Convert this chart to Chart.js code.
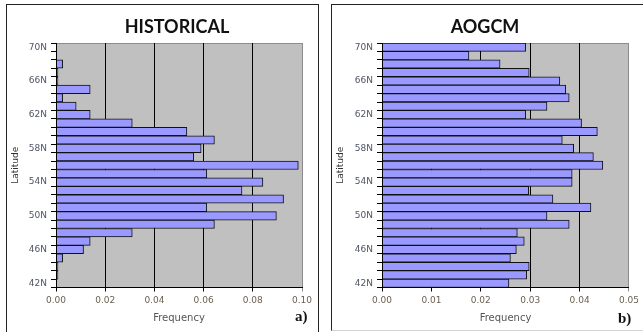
<!DOCTYPE html>
<html>
<head>
<meta charset="utf-8">
<script src="https://cdn.jsdelivr.net/npm/chart.js@4.4.1/dist/chart.umd.min.js"></script>
<style>
  html, body { margin: 0; padding: 0; background: #fff; }
  body { position: relative; width: 643px; height: 332px; overflow: hidden; }
  .panel { position: absolute; box-sizing: border-box; border: 1px solid #222; }
  #panelA { left: 6px; top: 4px; width: 313px; height: 340px; }
  #panelB { left: 331px; top: 4px; width: 320px; height: 327px; border-bottom-color: #d4d4d4; }
  canvas { position: absolute; top: 0; }
  #histCanvas { left: 0; }
  #aogcmCanvas { left: 325px; }
</style>
</head>
<body>
<div class="panel" id="panelA"></div>
<div class="panel" id="panelB"></div>
<canvas id="histCanvas" width="319" height="332"></canvas>
<canvas id="aogcmCanvas" width="318" height="332"></canvas>
<script>
// Latitude bands, north to south
const latitudes = ['70N','69N','68N','67N','66N','65N','64N','63N','62N','61N',
                   '60N','59N','58N','57N','56N','55N','54N','53N','52N','51N',
                   '50N','49N','48N','47N','46N','45N','44N','43N','42N'];

// Relative frequency per latitude band
const historical = [0, 0, 0.0027, 0.0008, 0.0008, 0.0139, 0.0027, 0.0082, 0.0139, 0.0310,
                    0.0532, 0.0644, 0.0590, 0.0560, 0.0985, 0.0613, 0.0841, 0.0756, 0.0925, 0.0613,
                    0.0896, 0.0644, 0.0310, 0.0139, 0.0112, 0.0027, 0.0008, 0.0008, 0];

const aogcm = [0.0291, 0.0176, 0.0239, 0.0298, 0.0360, 0.0372, 0.0379, 0.0334, 0.0291, 0.0404,
               0.0436, 0.0365, 0.0388, 0.0428, 0.0447, 0.0385, 0.0385, 0.0297, 0.0346, 0.0423,
               0.0334, 0.0379, 0.0274, 0.0288, 0.0272, 0.0260, 0.0298, 0.0293, 0.0257];

// Frequency axis ranges and label step
const histAxis = { max: 0.10, step: 0.02 };
const aogcmAxis = { max: 0.05, step: 0.01 };

Chart.defaults.font.family = '"DejaVu Sans", sans-serif';
Chart.defaults.animation = false;

// Grey plot area with a soft top/right frame
const plotFrame = {
  id: 'plotFrame',
  beforeDraw(chart) {
    const { ctx, chartArea: a } = chart;
    ctx.save();
    ctx.fillStyle = '#c0c0c0';
    ctx.fillRect(a.left, a.top, a.right - a.left, a.bottom - a.top);
    ctx.strokeStyle = '#8c8c8c';
    ctx.lineWidth = 1;
    ctx.beginPath();
    ctx.moveTo(a.left, Math.round(a.top) + 0.5);
    ctx.lineTo(a.right, Math.round(a.top) + 0.5);
    ctx.stroke();
    ctx.restore();
  }
};

// Panel heading and panel letter
const panelText = {
  id: 'panelText',
  afterDraw(chart, args, opts) {
    const { ctx } = chart;
    ctx.save();
    ctx.fillStyle = '#111';
    ctx.textBaseline = 'alphabetic';
    ctx.font = 'bold 18px Lato, sans-serif';
    ctx.textAlign = 'center';
    ctx.fillText(opts.title, opts.titleX, opts.titleY);
    ctx.font = 'bold 15px "Liberation Serif", serif';
    ctx.textAlign = 'left';
    ctx.fillText(opts.letter, opts.letterX, opts.letterY);
    ctx.restore();
  }
};

function makeChart(canvasId, values, axis, layout, text) {
  return new Chart(document.getElementById(canvasId), {
    type: 'bar',
    data: {
      labels: latitudes,
      datasets: [{
        data: values,
        backgroundColor: '#9999ff',
        borderColor: '#111',
        borderWidth: 1,
        barPercentage: 1,
        categoryPercentage: 1
      }]
    },
    options: {
      indexAxis: 'y',
      responsive: false,
      devicePixelRatio: 1,
      layout: { padding: { left: 0, top: layout.top, right: layout.right, bottom: 0 } },
      plugins: {
        legend: { display: false },
        tooltip: { enabled: false },
        panelText: text
      },
      scales: {
        x: {
          type: 'linear',
          min: 0,
          max: axis.max,
          afterFit(s) { s.height = layout.xHeight; },
          ticks: {
            stepSize: axis.step,
            color: '#6a5f52',
            font: { size: 9 },
            padding: 4,
            callback: v => Number(v).toFixed(2)
          },
          grid: {
            color: ctx => (ctx.tick && Math.abs(ctx.tick.value - axis.max) < 1e-9) ? '#8c8c8c' : '#000',
            lineWidth: 1,
            tickLength: 4,
            drawTicks: true
          },
          border: { display: true, color: '#000', width: 1, z: 1 },
          title: {
            display: true,
            text: 'Frequency',
            color: '#555',
            font: { size: 10 },
            padding: { top: 0, bottom: 8 }
          }
        },
        y: {
          type: 'category',
          afterFit(s) { s.width = layout.yWidth; },
          ticks: {
            autoSkip: false,
            color: '#4f5568',
            font: { size: 9 },
            padding: 4,
            callback: (v, i) => (i % 4 === 0 ? latitudes[i] : '')
          },
          grid: {
            offset: true,
            drawOnChartArea: false,
            drawTicks: true,
            tickLength: 5,
            color: '#000'
          },
          border: { display: true, color: '#000', width: 1, z: 1 },
          title: {
            display: true,
            text: 'Latitude',
            color: '#333',
            font: { size: 9 },
            padding: { top: 10, bottom: 0 }
          }
        }
      }
    },
    plugins: [plotFrame, panelText]
  });
}

makeChart('histCanvas', historical, histAxis,
  { top: 43, right: 17, yWidth: 56, xHeight: 44.5 },
  { title: 'HISTORICAL', titleX: 177, titleY: 33, letter: 'a)', letterX: 295, letterY: 321 });

makeChart('aogcmCanvas', aogcm, aogcmAxis,
  { top: 43, right: 14, yWidth: 57, xHeight: 44.5 },
  { title: 'AOGCM', titleX: 160, titleY: 33, letter: 'b)', letterX: 293, letterY: 323 });
</script>
</body>
</html>
